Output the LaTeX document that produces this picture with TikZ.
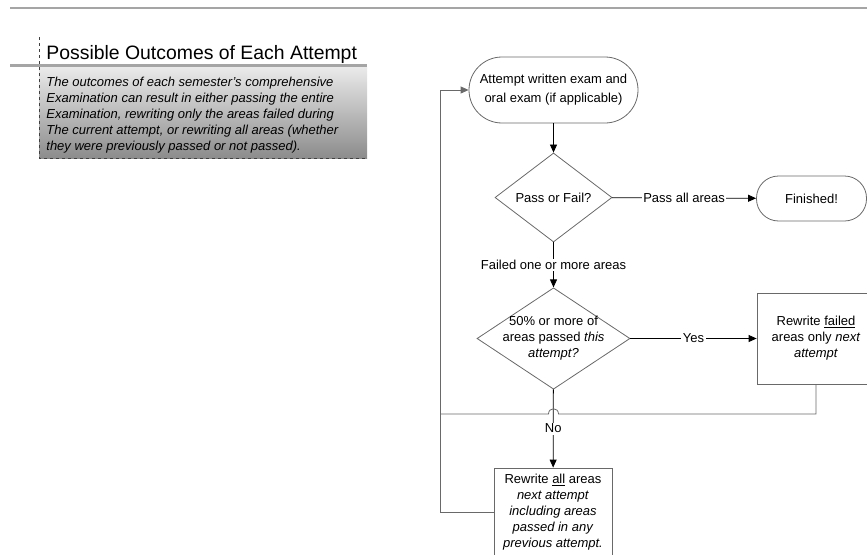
\documentclass[tikz,border=0pt]{standalone}
\usepackage{fontspec}
\setmainfont{Liberation Sans}
\usetikzlibrary{shapes.geometric,arrows.meta}
\definecolor{linegray}{RGB}{105,105,105}
\definecolor{rulegray}{RGB}{165,165,165}
\definecolor{boxtop}{RGB}{234,234,234}
\definecolor{boxbot}{RGB}{140,140,140}
\begin{document}
\begin{tikzpicture}[x=1pt,y=-1pt,>={Triangle[length=8pt,width=7pt]},line width=0.8pt,
  flow/.style={font=\fontsize{13}{16}\selectfont,align=center,draw=linegray,inner sep=0pt},
  terminal/.style={flow,rectangle,rounded corners=#1},
  decision/.style={flow,diamond,aspect=1.4},
  process/.style={flow,rectangle},
  lbl/.style={font=\fontsize{13}{16}\selectfont,fill=white,inner sep=1.5pt},
  feedback/.style={draw=linegray}]
\clip (0,0) rectangle (867,554);
% header block
\draw[rulegray,line width=1.2pt] (10,8)--(867,8);
\shade[top color=boxtop,bottom color=boxbot] (39,67) rectangle (367,158);
\draw[rulegray,line width=3pt] (10,65)--(367,65);
\draw[dashed,black!75] (39,37)--(39,158)--(367,158);
\node[anchor=base west,inner sep=0pt,font=\fontsize{19.4}{22}\selectfont] (title) at (46,59) {Possible Outcomes of Each Attempt};
\node[anchor=north west,inner sep=0pt,align=left,font=\fontsize{13}{16}\selectfont\itshape] (intro) at (46,77)
  {The outcomes of each semester's comprehensive\\Examination can result in either passing the entire\\Examination, rewriting only the areas failed during\\The current attempt, or rewriting all areas (whether\\they were previously passed or not passed).};
% flowchart
\node[terminal=33pt,minimum width=169pt,minimum height=66pt,font=\fontsize{13}{19}\selectfont] (start) at (553.5,90) {Attempt written exam and\\oral exam (if applicable)};
\node[decision,minimum width=117pt,minimum height=89pt] (dec1) at (553.5,197.5) {Pass or Fail?};
\node[terminal=22pt,minimum width=110pt,minimum height=45pt] (fin) at (811.5,198.5) {Finished!};
\node[decision,aspect=1.5,inner xsep=-8pt,minimum width=153pt,minimum height=101pt] (dec2) at (553.5,338.5) {50\% or more of\\areas passed \textit{this}\\\textit{attempt?}};
\node[process,minimum width=118pt,minimum height=91pt] (rewfail) at (816,338.5) {Rewrite \underline{failed}\\areas only \textit{next}\\\textit{attempt}};
\node[process,minimum width=118pt,minimum height=88pt] (rewall) at (553,512) {Rewrite \underline{all} areas\\\textit{next attempt}\\\textit{including areas}\\\textit{passed in any}\\\textit{previous attempt.}};
\coordinate (hopR) at (558.5,414); \coordinate (hopL) at (548.5,414);
\coordinate (joinL) at (440,414); \coordinate (cornerB) at (440,512);
\draw[->] (start)--(dec1);
\draw[->] (dec1)--node[lbl]{Pass all areas}(fin);
\draw[->] (dec1)--node[lbl]{Failed one or more areas}(dec2);
\draw[->] (dec2)--node[lbl]{Yes}(rewfail);
\draw[->] (dec2)--node[lbl]{No}(rewall);
\draw[feedback] (rewfail.south) |- (hopR) .. controls (558.5,407) and (548.5,407) .. (hopL)--(joinL);
\draw[feedback,->] (rewall.west)--(cornerB) |- (start.west);
\end{tikzpicture}
\end{document}
